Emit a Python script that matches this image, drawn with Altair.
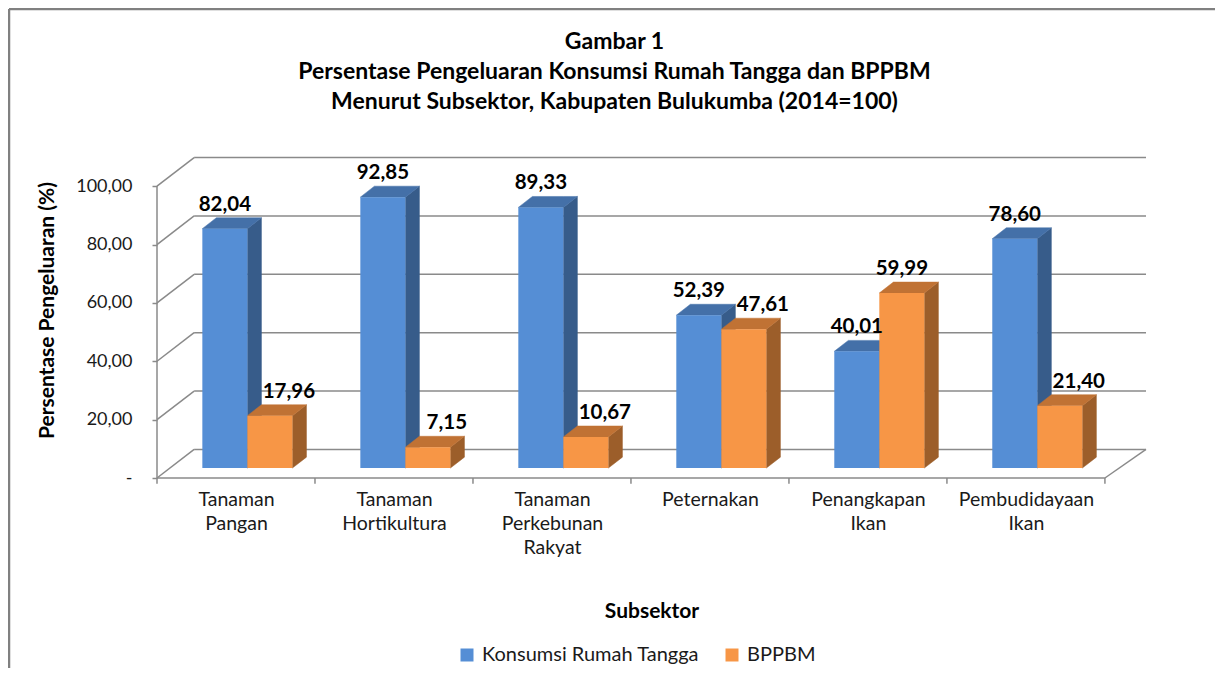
import altair as alt
import pandas as pd

# ---------------- data ----------------
categories = ["Tanaman Pangan", "Tanaman Hortikultura", "Tanaman Perkebunan Rakyat",
              "Peternakan", "Penangkapan Ikan", "Pembudidayaan Ikan"]
label_lines = [["Tanaman", "Pangan"], ["Tanaman", "Hortikultura"],
               ["Tanaman", "Perkebunan", "Rakyat"], ["Peternakan"],
               ["Penangkapan", "Ikan"], ["Pembudidayaan", "Ikan"]]
series_names = ["Konsumsi Rumah Tangga", "BPPBM"]
konsumsi = [82.04, 92.85, 89.33, 52.39, 40.01, 78.60]
bppbm = [17.96, 7.15, 10.67, 47.61, 59.99, 21.40]
y_ticks = [0, 20, 40, 60, 80, 100]
title_lines = ["Gambar 1",
               "Persentase Pengeluaran Konsumsi Rumah Tangga dan BPPBM",
               "Menurut Subsektor, Kabupaten  Bulukumba (2014=100)"]

# ---------------- style / geometry constants ----------------
FONT = "Lato"
BLUE, BLUE_SIDE, BLUE_TOP = "#558ED5", "#375C8A", "#4470A8"
ORANGE, ORANGE_SIDE, ORANGE_TOP = "#F79646", "#9C5E2A", "#C07234"
GRID = "#8a8a8a"

CAT_PX = 158.0
N = len(categories)
XMAX = 6.26
YMAX = 110.0
W = int(round(XMAX * CAT_PX))
H = 321

WDX, WDY = 0.235, 9.8      # depth of the back wall (x units, y units)
BOX, BOY = 0.072, 3.4      # offset of the bar plane from the front plane
BW = 0.285                 # bar width (category units)
BDX, BDY = 0.089, 3.75     # depth of each bar

fronts, sides, tops, labels = [], [], [], []
for i in range(N):
    vals = [konsumsi[i], bppbm[i]]
    for s, (name, v) in enumerate(zip(series_names, vals)):
        xl = i + 0.5 + BOX - BW + s * BW
        xr = xl + BW
        y0 = BOY
        y1 = BOY + v
        bid = f"{i}-{s}"
        fronts.append(dict(series=name, xl=xl, xr=xr, y0=y0, y1=y1))
        sides += [dict(bar=bid, series=name, x=xr, lo=y0, hi=y1),
                  dict(bar=bid, series=name, x=xr + BDX, lo=y0 + BDY, hi=y1 + BDY)]
        tops += [dict(bar=bid, series=name, x=xl, lo=y1, hi=y1),
                 dict(bar=bid, series=name, x=xl + BDX, lo=y1, hi=y1 + BDY),
                 dict(bar=bid, series=name, x=xr, lo=y1, hi=y1 + BDY),
                 dict(bar=bid, series=name, x=xr + BDX, lo=y1 + BDY, hi=y1 + BDY)]
        shift = 0.12 if (s == 1 and v < vals[0]) else 0.0
        labels.append(dict(x=(xl + xr) / 2 + shift, y=y1 + BDY,
                           text=f"{v:.2f}".replace(".", ",")))

rules = []
for v in y_ticks:
    rules.append(dict(x=0, x2=WDX, y=v, y2=v + WDY))          # side wall diagonals
    rules.append(dict(x=WDX, x2=XMAX, y=v + WDY, y2=v + WDY))  # back wall gridlines
rules.append(dict(x=0, x2=N, y=0, y2=0))                       # floor front edge
rules.append(dict(x=N, x2=XMAX, y=0, y2=WDY))                  # floor right edge
rules.append(dict(x=0, x2=0, y=0, y2=y_ticks[-1]))             # y axis line
for k in range(N + 1):
    rules.append(dict(x=k, x2=k, y=0, y2=-2.0))                # category ticks

df_front = pd.DataFrame(fronts)
df_side = pd.DataFrame(sides)
df_top = pd.DataFrame(tops)
df_lab = pd.DataFrame(labels)
df_rule = pd.DataFrame(rules)

# ---------------- scales / axes ----------------
xscale = alt.Scale(domain=[0, XMAX], nice=False, zero=False)
yscale = alt.Scale(domain=[0, YMAX], nice=False, zero=False)

lab_js = "[" + ",".join("[" + ",".join(f"'{w}'" for w in ln) + "]" for ln in label_lines) + "]"
x_axis = alt.Axis(values=[i + 0.5 for i in range(N)],
                  labelExpr=lab_js + "[floor(datum.value)]",
                  labelFont=FONT, labelFontSize=19.5, labelLineHeight=24,
                  labelPadding=12, labelColor="#1a1a1a", labelAngle=0,
                  labelAlign="center", labelOverlap=False, labelFlush=False,
                  ticks=False, domain=False, grid=False,
                  title="Subsektor", titleFont=FONT, titleFontSize=21,
                  titleFontWeight="bold", titleColor="#000", titleY=133,
                  titleBaseline="middle")
dash = "-\u00a0\u00a0\u00a0"
y_axis = alt.Axis(values=y_ticks,
                  labelExpr=f"datum.value == 0 ? '{dash}' : replace(format(datum.value, '.2f'), '.', ',')",
                  labelFont=FONT, labelFontSize=18, labelColor="#1a1a1a",
                  labelPadding=20, tickSize=5, tickColor=GRID, tickWidth=1.5,
                  domain=False, grid=False,
                  title="Persentase Pengeluaran (%)", titleFont=FONT, titleFontSize=21,
                  titleFontWeight="bold", titleColor="#000", titleX=-110, titleY=153,
                  titleAngle=-90, titleAlign="center", titleBaseline="middle")


def X(field):
    return alt.X(field, type="quantitative", scale=xscale, axis=x_axis)


def Y(field):
    return alt.Y(field, type="quantitative", scale=yscale, axis=y_axis, stack=None)


walls = alt.Chart(df_rule).mark_rule(color=GRID, strokeWidth=1.5).encode(
    x=X("x"), x2="x2", y=Y("y"), y2="y2")


def faces(df, name, color):
    return alt.Chart(df).transform_filter(alt.datum.series == name).mark_area(
        color=color, stroke=color, strokeWidth=0.5, interpolate="linear", orient="vertical"
    ).encode(x=X("x"), y=Y("lo"), y2="hi", detail="bar:N")


side_b = faces(df_side, series_names[0], BLUE_SIDE)
side_o = faces(df_side, series_names[1], ORANGE_SIDE)
top_b = faces(df_top, series_names[0], BLUE_TOP)
top_o = faces(df_top, series_names[1], ORANGE_TOP)

front = alt.Chart(df_front).mark_rect().encode(
    x=X("xl"), x2="xr", y=Y("y0"), y2="y1",
    color=alt.Color("series:N",
                    scale=alt.Scale(domain=series_names, range=[BLUE, ORANGE]),
                    legend=alt.Legend(title=None, orient="none", legendX=300, legendY=488,
                                      direction="horizontal", symbolType="square",
                                      symbolSize=169, symbolStrokeWidth=0,
                                      labelFont=FONT, labelFontSize=20, labelLimit=0,
                                      labelColor="#1a1a1a", columnPadding=22,
                                      labelOffset=5)))

value_labels = alt.Chart(df_lab).mark_text(
    font=FONT, fontSize=20.5, fontWeight="bold", color="#000",
    baseline="bottom", align="center", dy=-3
).encode(x=X("x"), y=Y("y"), text="text:N")

frame_df = pd.DataFrame({"k": [0]})
border_top = alt.Chart(frame_df).mark_rule(color="#808080", strokeWidth=2.5).encode(
    x=alt.value(-148), x2=alt.value(W + 70), y=alt.value(-148), y2=alt.value(-148))
border_left = alt.Chart(frame_df).mark_rule(color="#808080", strokeWidth=2.5).encode(
    x=alt.value(-148), x2=alt.value(-148), y=alt.value(-148), y2=alt.value(H + 200))

chart = alt.layer(
    walls, side_b, side_o, top_b, top_o, front, value_labels, border_top, border_left
).properties(
    width=W, height=H,
    autosize=alt.AutoSizeParams(type="none"),
    padding={"left": 149, "top": 149, "right": 69, "bottom": 190},
    title=alt.TitleParams(text=title_lines, font=FONT, fontSize=23, fontWeight="bold",
                          lineHeight=30, anchor="middle", dx=-37, offset=-106, color="#000"),
    background="white",
).configure_view(stroke=None)

chart.save("out.html", embed_options={"renderer": "svg", "actions": False})
